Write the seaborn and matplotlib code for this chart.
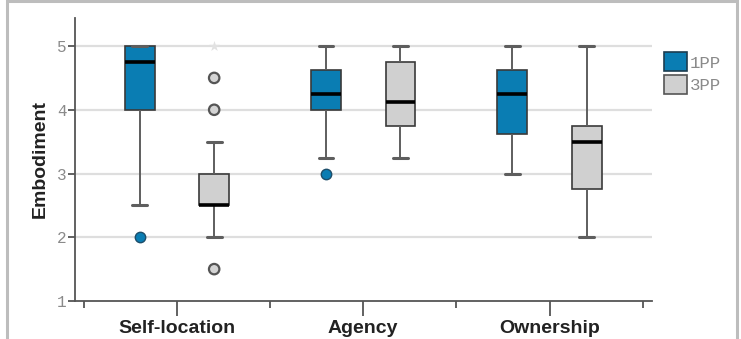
import numpy as np
import pandas as pd
import matplotlib
matplotlib.use("Agg")
import matplotlib.pyplot as plt
from matplotlib.patches import Patch, Rectangle
import seaborn as sns

categories = ["Self-location", "Agency", "Ownership"]
groups = ["1PP", "3PP"]
self_1pp = [2, 2.5, 4, 4.5, 4.75, 5, 5, 5, 5]
self_3pp = [1.5, 2, 2.5, 2.5, 2.5, 2.5, 2.5, 2.5, 2.5, 3, 3, 3, 3, 3.5, 4, 4.5, 5]
agency_1pp = [3, 3.25, 4, 4.125, 4.25, 4.5, 4.625, 4.75, 5]
agency_3pp = [3.25, 3.5, 3.75, 4, 4.125, 4.5, 4.75, 5, 5]
own_1pp = [3, 3.5, 3.625, 4, 4.25, 4.5, 4.625, 4.75, 5]
own_3pp = [2, 2.5, 2.75, 3, 3.5, 3.5, 3.75, 4, 5]
yticks = [1, 2, 3, 4, 5]

series = {
    ("Self-location", "1PP"): self_1pp,
    ("Self-location", "3PP"): self_3pp,
    ("Agency", "1PP"): agency_1pp,
    ("Agency", "3PP"): agency_3pp,
    ("Ownership", "1PP"): own_1pp,
    ("Ownership", "3PP"): own_3pp,
}
rows = []
for (cat, grp), vals in series.items():
    for v in vals:
        rows.append({"Dimension": cat, "View": grp, "Embodiment": v})
df = pd.DataFrame(rows)

# classify outliers (mild: beyond 1.5 IQR, extreme: beyond 3 IQR)
def classify(g):
    q1, q3 = np.percentile(g["Embodiment"], [25, 75])
    iqr = q3 - q1
    v = g["Embodiment"]
    ext = (v < q1 - 3 * iqr) | (v > q3 + 3 * iqr)
    mild = ((v < q1 - 1.5 * iqr) | (v > q3 + 1.5 * iqr)) & ~ext
    g = g.copy()
    g["kind"] = np.where(ext, "extreme", np.where(mild, "mild", "none"))
    return g

df = pd.concat([classify(g) for _, g in df.groupby(["Dimension", "View"], sort=False)])

blue = "#0a7db3"
grey = "#d0d0d0"
palette = {"1PP": blue, "3PP": grey}

sns.set_theme(style="white")
plt.rcParams["font.family"] = ["Liberation Sans", "DejaVu Sans"]

fig = plt.figure(figsize=(7.41, 3.39), dpi=100)
ax = fig.add_axes([75 / 741, 1 - 301 / 339, (652 - 75) / 741, (301 - 18) / 339])

sns.boxplot(data=df, x="Dimension", y="Embodiment", hue="View", order=categories,
            hue_order=groups, palette=palette, saturation=1, width=0.8, gap=0.6, dodge=True,
            showfliers=False, linecolor="#3a3a3a", linewidth=1.2, whis=1.5,
            medianprops=dict(color="black", linewidth=2.6),
            whiskerprops=dict(color="#5e5e5e", linewidth=1.4),
            capprops=dict(color="#5e5e5e", linewidth=2.2),
            legend=False, ax=ax)

mild = df[df["kind"] == "mild"]
sns.stripplot(data=mild[mild["View"] == "1PP"], x="Dimension", y="Embodiment", hue="View",
              order=categories, hue_order=groups, dodge=True, jitter=False,
              palette={"1PP": blue, "3PP": grey}, size=7.5, linewidth=1.0,
              edgecolor="#1d4e6a", legend=False, ax=ax)
sns.stripplot(data=mild[mild["View"] == "3PP"], x="Dimension", y="Embodiment", hue="View",
              order=categories, hue_order=groups, dodge=True, jitter=False,
              palette={"1PP": blue, "3PP": "#d4d4d4"}, size=7.5, linewidth=1.6,
              edgecolor="#555555", legend=False, ax=ax)
sns.stripplot(data=df[df["kind"] == "extreme"], x="Dimension", y="Embodiment", hue="View",
              order=categories, hue_order=groups, dodge=True, jitter=False, marker="*",
              palette={"1PP": blue, "3PP": "#e2e2e2"}, size=8, linewidth=0,
              legend=False, ax=ax)

ax.set_xlim(-0.547, 2.55)
ax.set_ylim(1, 5.44)
ax.set_yticks(yticks)
ax.set_yticklabels([str(t) for t in yticks], family=["Liberation Mono", "DejaVu Sans Mono"],
                   color="#8a8a8a", fontsize=11.5)
ax.set_xticks(range(len(categories)))
ax.set_xticklabels(categories, fontweight="bold", fontsize=14, color="#222222")
ax.set_xticks([-0.5, 0.5, 1.5, 2.5], minor=True)
ax.tick_params(axis="x", which="major", direction="out", length=11, width=1.3,
               color="#555555", bottom=True, pad=3)
ax.tick_params(axis="x", which="minor", direction="out", length=5, width=1.3,
               color="#555555", bottom=True)
ax.tick_params(axis="y", which="major", direction="out", length=5, width=1.3,
               color="#555555", left=True, pad=1)
ax.set_xlabel("")
ax.set_ylabel("Embodiment", fontweight="bold", fontsize=14, color="#222222", labelpad=6)

for y in yticks[1:]:
    ax.axhline(y, color="#dedede", linewidth=1.6, zorder=0)

for s in ["top", "right"]:
    ax.spines[s].set_visible(False)
for s in ["left", "bottom"]:
    ax.spines[s].set_color("#555555")
    ax.spines[s].set_linewidth(1.3)

handles = [Patch(facecolor=blue, edgecolor="#1d3d50", linewidth=1.2, label="1PP"),
           Patch(facecolor=grey, edgecolor="#555555", linewidth=1.2, label="3PP")]
leg = fig.legend(handles=handles, loc="upper left", bbox_to_anchor=(664 / 741, 1 - 52 / 339),
                 frameon=False, handlelength=1.35, handleheight=1.35, handletextpad=0.15,
                 labelspacing=0.2, borderaxespad=0, borderpad=0,
                 prop={"family": ["Liberation Mono", "DejaVu Sans Mono"], "size": 12.5})
for t in leg.get_texts():
    t.set_color("#8a8a8a")

# figure frame
fig.patches.append(Rectangle((7 / 741, -0.05), (737 - 7) / 741, 1.05 - 1.5 / 339,
                             transform=fig.transFigure, fill=False,
                             edgecolor="#bdbdbd", linewidth=2.2))

fig.savefig("out.png", dpi=100)
